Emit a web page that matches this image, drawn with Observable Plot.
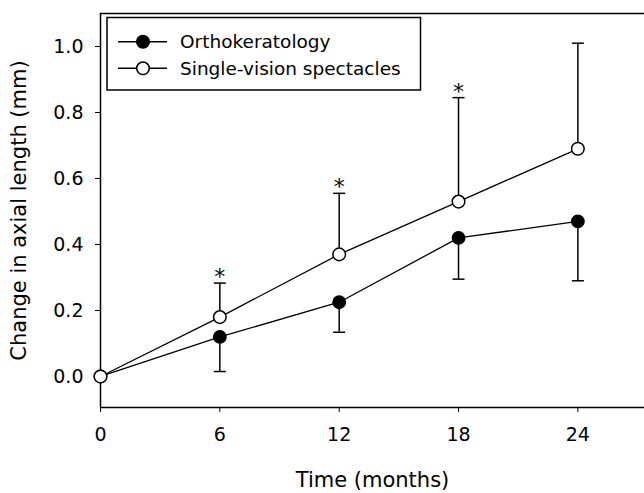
<!DOCTYPE html>
<html>
<head>
<meta charset="utf-8">
<script src="https://cdn.jsdelivr.net/npm/d3@7"></script>
<script src="https://cdn.jsdelivr.net/npm/@observablehq/plot@0.6"></script>
<style>
  html, body { margin: 0; padding: 0; background: #fff; }
  #chart { position: relative; width: 644px; height: 493px; }
  svg { font-family: "DejaVu Sans", sans-serif; }
</style>
</head>
<body>
<div id="chart"></div>
<script>
// Data (months since baseline, change in axial length in mm)
const months = [0, 6, 12, 18, 24];
const orthoMean = [0, 0.12, 0.225, 0.42, 0.47];
const orthoLow = [0, 0.015, 0.134, 0.295, 0.29];      // lower SD bar end
const spectMean = [0, 0.18, 0.37, 0.53, 0.69];
const spectHigh = [0, 0.283, 0.555, 0.845, 1.01];     // upper SD bar end
const significance = ["", "*", "*", "*", ""];
const seriesNames = ["Orthokeratology", "Single-vision spectacles"];
const xTicks = [0, 6, 12, 18, 24];
const yTicks = [0, 0.2, 0.4, 0.6, 0.8, 1.0];

const ortho = months.map((m, i) => ({month: m, value: orthoMean[i], low: orthoLow[i]}));
const spect = months.map((m, i) => ({month: m, value: spectMean[i], high: spectHigh[i], sig: significance[i]}));
const orthoBars = ortho.filter(d => d.month > 0);
const spectBars = spect.filter(d => d.month > 0);

const capSymbol = {
  draw(context, size) {
    const r = 6;
    context.moveTo(-r, 0);
    context.lineTo(r, 0);
  }
};

const yMin = -0.094, yMax = 1.1;
const FONT = "'DejaVu Sans', sans-serif";

const chart = Plot.plot({
  width: 644,
  height: 493,
  marginLeft: 100,
  marginRight: 0,
  marginTop: 13,
  marginBottom: 86,
  style: {fontFamily: FONT, background: "#fff", color: "#000"},
  x: {domain: [0, 27.35]},
  y: {domain: [yMin, yMax]},
  marks: [
    Plot.axisX({ticks: xTicks, tickSize: 5, tickPadding: 15, tickFormat: d => String(d), fontSize: 19,
      label: "Time (months)", labelAnchor: "center", labelOffset: 79, labelArrow: "none", stroke: "#000"}),
    Plot.axisY({ticks: yTicks, tickSize: 5, tickPadding: 12, tickFormat: d3.format(".1f"), fontSize: 19,
      label: "Change in axial length (mm)", labelAnchor: "center", labelOffset: 89, labelArrow: "none", stroke: "#000"}),
    Plot.ruleX([0], {stroke: "#000", strokeWidth: 1.5}),
    Plot.ruleY([yMin], {stroke: "#000", strokeWidth: 1.5}),
    Plot.ruleY([yMax], {stroke: "#000", strokeWidth: 1.5}),
    // error bars
    Plot.ruleX(orthoBars, {x: "month", y1: "value", y2: "low", stroke: "#000", strokeWidth: 1.5}),
    Plot.dot(orthoBars, {x: "month", y: "low", symbol: capSymbol, stroke: "#000", strokeWidth: 1.5, fill: "none"}),
    Plot.ruleX(spectBars, {x: "month", y1: "value", y2: "high", stroke: "#000", strokeWidth: 1.5}),
    Plot.dot(spectBars, {x: "month", y: "high", symbol: capSymbol, stroke: "#000", strokeWidth: 1.5, fill: "none"}),
    Plot.text(spectBars, {x: "month", y: "high", text: "sig", fontSize: 22, dy: -6, lineAnchor: "middle", fill: "#000"}),
    // lines
    Plot.line(ortho, {x: "month", y: "value", stroke: "#000", strokeWidth: 1.3}),
    Plot.line(spect, {x: "month", y: "value", stroke: "#000", strokeWidth: 1.3}),
    // markers
    Plot.dot(ortho, {x: "month", y: "value", r: 6.3, fill: "#000", stroke: "#000", strokeWidth: 1.2}),
    Plot.dot(spect, {x: "month", y: "value", r: 6.3, fill: "#fff", stroke: "#000", strokeWidth: 1.5})
  ]
});

// Axis title font sizes
d3.select(chart).selectAll("g[aria-label='x-axis label'] text, g[aria-label='y-axis label'] text")
  .attr("font-size", 21).style("font-size", "21px");

// Legend inside the plot area (top-left)
const svg = d3.select(chart);
const lg = svg.append("g").attr("aria-label", "legend").attr("text-anchor", "start");
lg.append("rect").attr("x", 107).attr("y", 17.5).attr("width", 313.5).attr("height", 72.5)
  .attr("fill", "#fff").attr("stroke", "#000").attr("stroke-width", 1.5);
const rows = [
  {name: seriesNames[0], fill: "#000", cy: 41.7},
  {name: seriesNames[1], fill: "#fff", cy: 68.3}
];
rows.forEach(r => {
  lg.append("line").attr("x1", 118).attr("x2", 167).attr("y1", r.cy).attr("y2", r.cy)
    .attr("stroke", "#000").attr("stroke-width", 1.5);
  lg.append("circle").attr("cx", 143).attr("cy", r.cy).attr("r", 6.3)
    .attr("fill", r.fill).attr("stroke", "#000").attr("stroke-width", 1.5);
  lg.append("text").attr("x", 180).attr("y", r.cy).attr("dy", "0.36em")
    .attr("text-anchor", "start").attr("font-size", 18.5).attr("fill", "#000").text(r.name);
});

document.getElementById("chart").appendChild(chart);
</script>
</body>
</html>
